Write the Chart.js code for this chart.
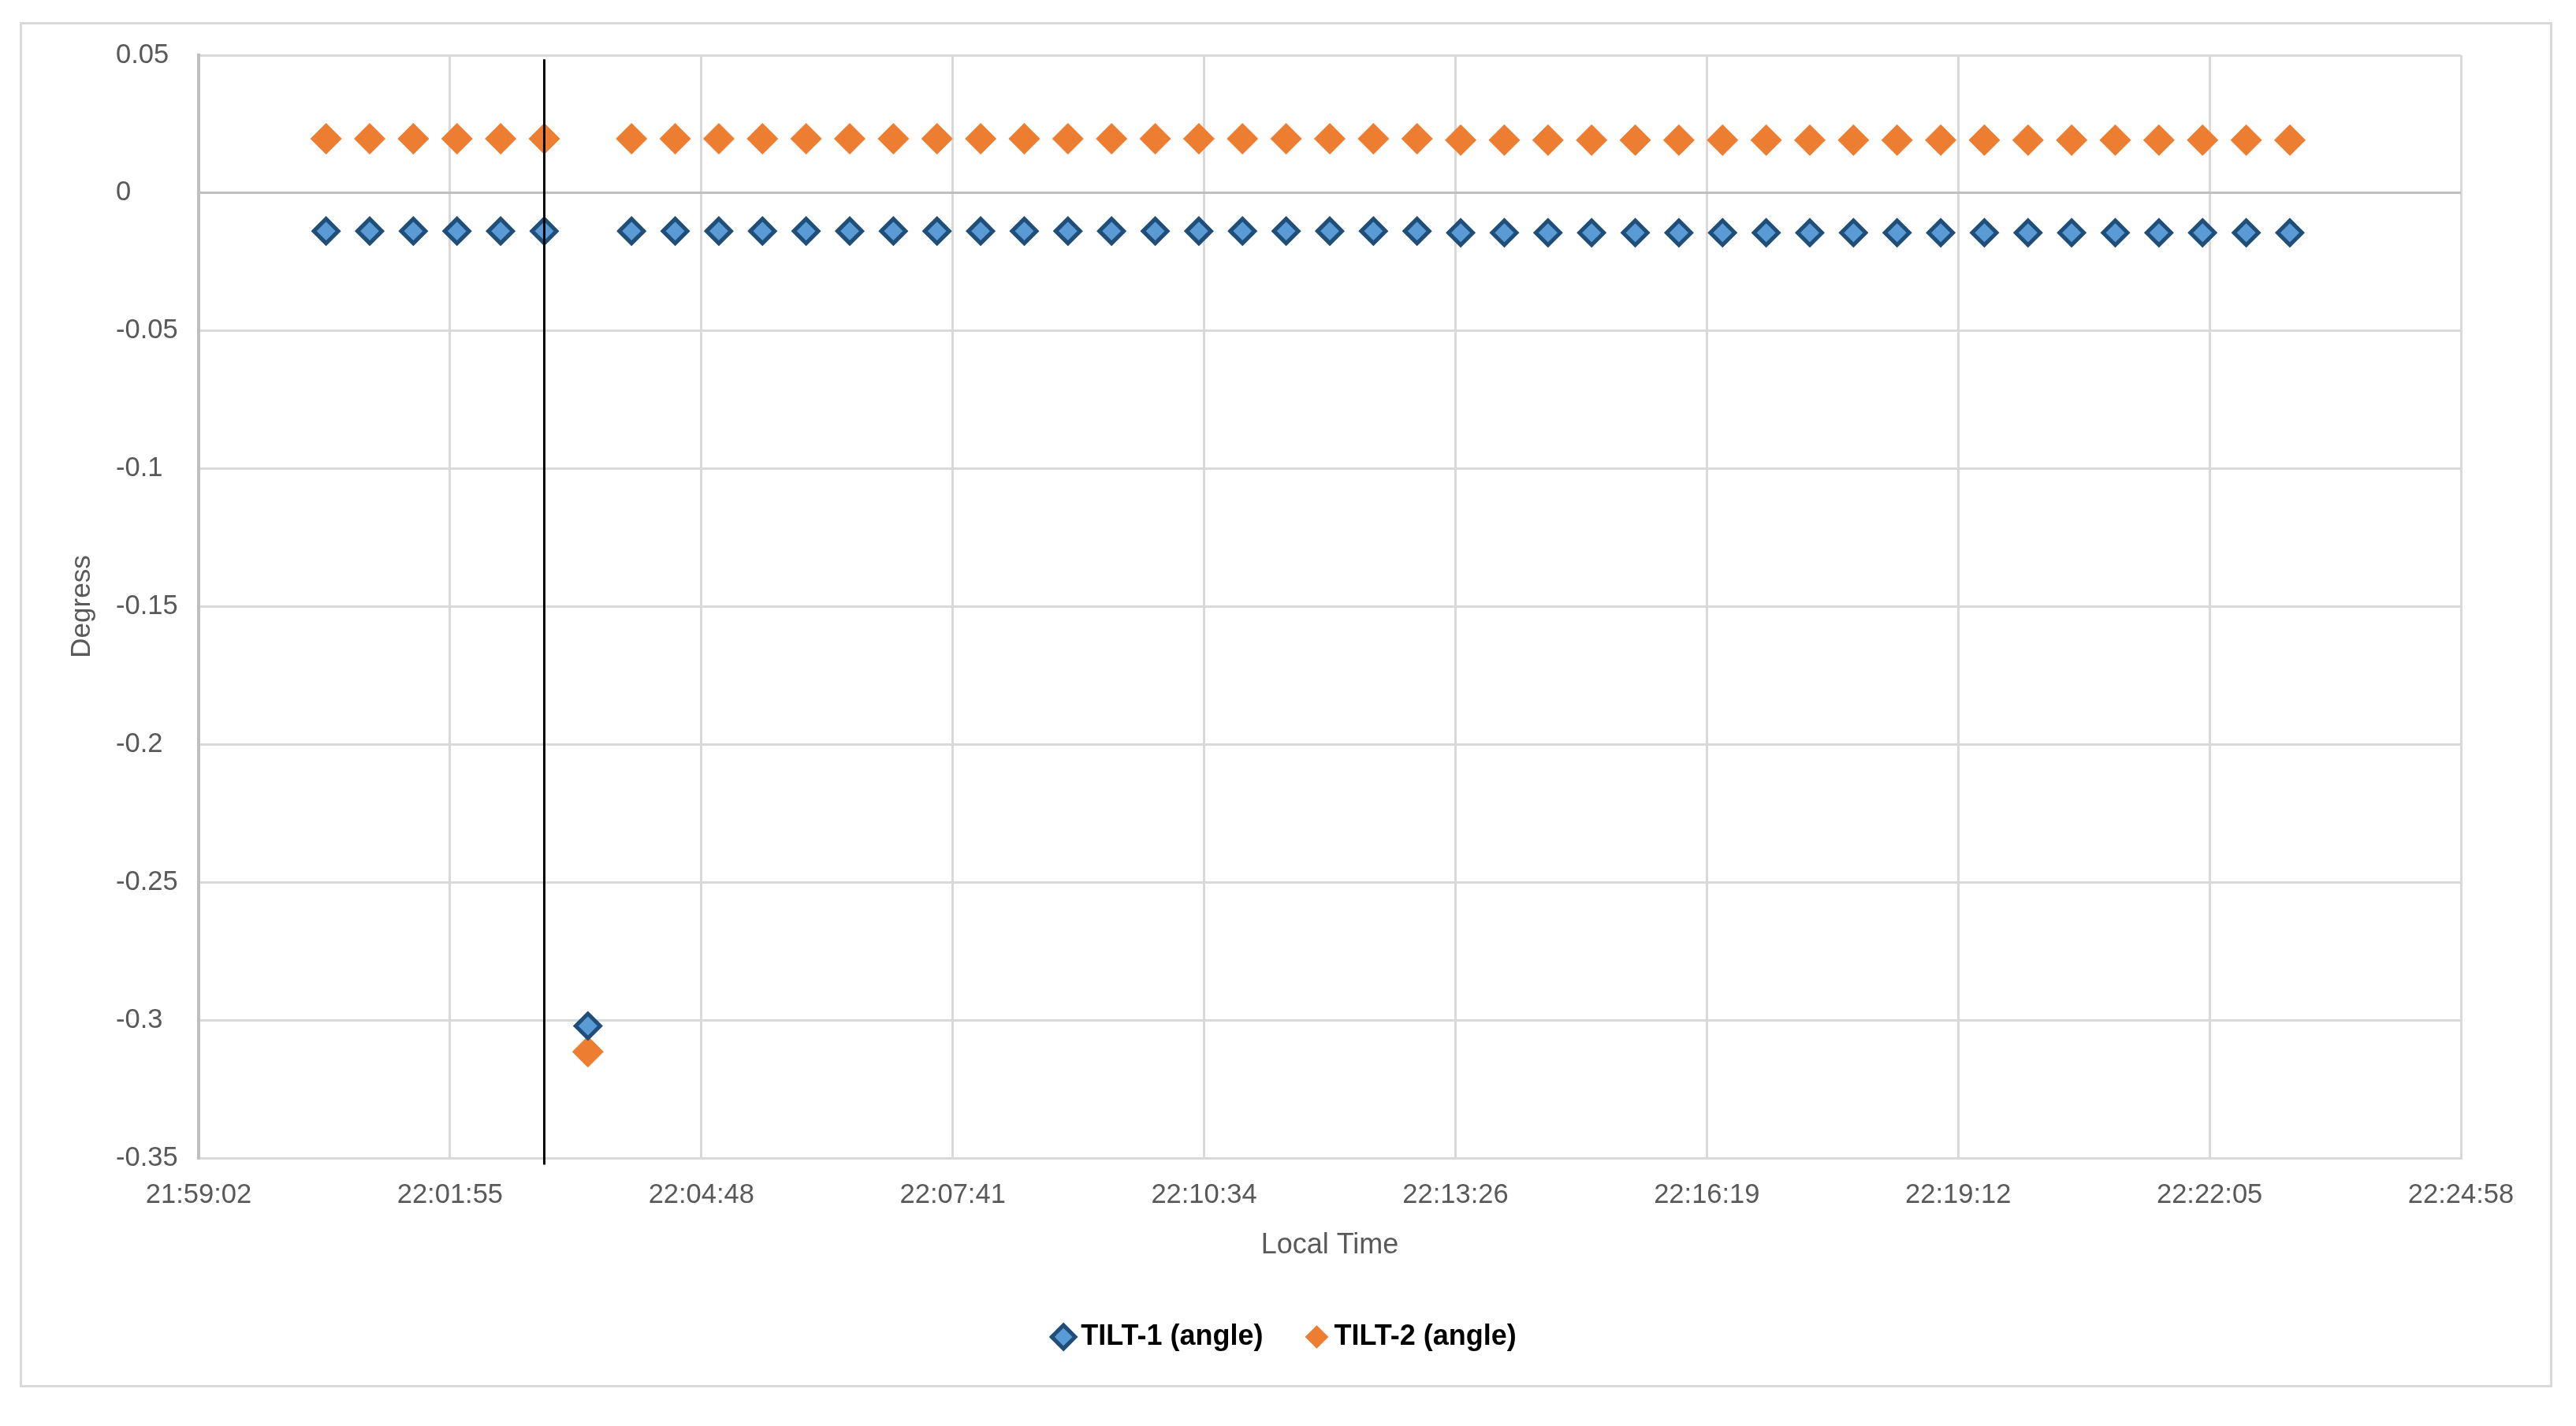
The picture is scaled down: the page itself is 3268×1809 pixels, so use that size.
<!DOCTYPE html>
<html>
<head>
<meta charset="utf-8">
<script src="https://cdn.jsdelivr.net/npm/chart.js@4.4.1/dist/chart.umd.min.js"></script>
<style>
  html, body { margin: 0; padding: 0; background: #ffffff; }
  #wrap { position: absolute; left: 0; top: 0; width: 3268px; height: 1809px; }
  canvas { display: block; }
</style>
</head>
<body>
<div id="wrap"><canvas id="c" width="3268" height="1809"></canvas></div>
<script>
// ---------------- data ----------------
const times = [
  '22:00:30','22:01:00','22:01:30','22:02:00','22:02:30','22:03:00',
  '22:03:30',
  '22:04:00','22:04:30','22:05:00','22:05:30','22:06:00','22:06:30','22:07:00','22:07:30','22:08:00','22:08:30',
  '22:09:00','22:09:30','22:10:00','22:10:30','22:11:00','22:11:30','22:12:00','22:12:30','22:13:00',
  '22:13:30','22:14:00','22:14:30','22:15:00','22:15:30','22:16:00','22:16:30','22:17:00','22:17:30','22:18:00',
  '22:18:30','22:19:00','22:19:30','22:20:00','22:20:30','22:21:00','22:21:30','22:22:00','22:22:30','22:23:00'
];
const tilt1 = [
  -0.0138,-0.0138,-0.0138,-0.0138,-0.0138,-0.0138,
  -0.3021,
  -0.0138,-0.0138,-0.0138,-0.0138,-0.0138,-0.0138,-0.0138,-0.0138,-0.0138,-0.0138,
  -0.0138,-0.0138,-0.0138,-0.0138,-0.0138,-0.0138,-0.0138,-0.0138,-0.0138,
  -0.0144,-0.0144,-0.0144,-0.0144,-0.0144,-0.0144,-0.0144,-0.0144,-0.0144,-0.0144,
  -0.0144,-0.0144,-0.0144,-0.0144,-0.0144,-0.0144,-0.0144,-0.0144,-0.0144,-0.0144
];
const tilt2 = [
  0.0197,0.0197,0.0197,0.0197,0.0197,0.0197,
  -0.3115,
  0.0197,0.0197,0.0197,0.0197,0.0197,0.0197,0.0197,0.0197,0.0197,0.0197,
  0.0197,0.0197,0.0197,0.0197,0.0197,0.0197,0.0197,0.0197,0.0197,
  0.0192,0.0192,0.0192,0.0192,0.0192,0.0192,0.0192,0.0192,0.0192,0.0192,
  0.0192,0.0192,0.0192,0.0192,0.0192,0.0192,0.0192,0.0192,0.0192,0.0192
];
const seriesNames = ['TILT-1 (angle)', 'TILT-2 (angle)'];
// x axis ticks: seconds of day (Excel major unit 0.002 day = 172.8 s)
const xTickValues = [79142.4, 79315.2, 79488.0, 79660.8, 79833.6, 80006.4, 80179.2, 80352.0, 80524.8, 80697.6];
const xTickLabels = ['21:59:02','22:01:55','22:04:48','22:07:41','22:10:34','22:13:26','22:16:19','22:19:12','22:22:05','22:24:58'];
const yTickValues = [-0.35, -0.3, -0.25, -0.2, -0.15, -0.1, -0.05, 0, 0.05];
const yTickLabels = ['-0.35','-0.3','-0.25','-0.2','-0.15','-0.1','-0.05','0','0.05'];
// vertical reference line
const markerTime = '22:03:00';
const markerYRange = [0.0485, -0.3524];

// ---------------- helpers ----------------
function toSec(t) {
  const p = t.split(':').map(Number);
  return p[0] * 3600 + p[1] * 60 + p[2];
}
const pts = vals => times.map((t, i) => ({ x: toSec(t), y: vals[i] }));
const FAM = "'Liberation Sans', Arial, sans-serif";

const frame = {
  id: 'frame',
  beforeDraw(chart) {
    const c = chart.ctx;
    c.save();
    c.fillStyle = '#ffffff';
    c.fillRect(0, 0, chart.width, chart.height);
    c.strokeStyle = '#D9D9D9';
    c.lineWidth = 3;
    c.strokeRect(26.5, 29.5, 3210, 1729);
    c.restore();
  }
};

new Chart(document.getElementById('c'), {
  type: 'scatter',
  data: {
    datasets: [
      {
        label: seriesNames[0],
        data: pts(tilt1),
        pointStyle: 'rectRot',
        pointRadius: 15.5,
        pointHoverRadius: 15.5,
        borderWidth: 5,
        backgroundColor: '#5B9BD5',
        borderColor: '#1F4E79',
        order: 0
      },
      {
        label: seriesNames[1],
        data: pts(tilt2),
        pointStyle: 'rectRot',
        pointRadius: 20,
        pointHoverRadius: 20,
        borderWidth: 0,
        backgroundColor: '#ED7D31',
        borderColor: '#ED7D31',
        order: 0
      },
      {
        label: '__marker',
        type: 'line',
        data: markerYRange.map(v => ({ x: toSec(markerTime), y: v })),
        borderColor: '#000000',
        borderWidth: 3,
        pointRadius: 0,
        showLine: true,
        clip: false,
        order: -1
      }
    ]
  },
  options: {
    responsive: false,
    devicePixelRatio: 1,
    animation: false,
    layout: { padding: { left: 147, right: 146, top: 70, bottom: 85 } },
    plugins: {
      tooltip: { enabled: false },
      legend: {
        position: 'bottom',
        labels: {
          usePointStyle: true,
          boxWidth: 8,
          boxHeight: 21,
          padding: 64,
          color: '#000000',
          font: { family: FAM, size: 36, weight: 'bold' },
          filter: item => item.text !== '__marker'
        }
      }
    },
    scales: {
      x: {
        type: 'linear',
        position: 'bottom',
        min: xTickValues[0],
        max: xTickValues[xTickValues.length - 1],
        afterBuildTicks: s => { s.ticks = xTickValues.map(v => ({ value: v })); },
        afterFit: s => { s.paddingLeft = 0; s.paddingRight = 0; s.height = 145; },
        grid: { color: '#D9D9D9', lineWidth: 3, drawTicks: false },
        border: { color: '#D9D9D9', width: 3 },
        ticks: {
          padding: 27,
          color: '#595959',
          font: { family: FAM, size: 34.5 },
          maxRotation: 0,
          autoSkip: false,
          callback: (v, i) => xTickLabels[i]
        },
        title: {
          display: true,
          text: 'Local Time',
          color: '#595959',
          font: { family: FAM, size: 36 },
          padding: { top: 0, bottom: 12 }
        }
      },
      y: {
        min: yTickValues[0],
        max: yTickValues[yTickValues.length - 1],
        afterBuildTicks: s => { s.ticks = yTickValues.map(v => ({ value: v })); },
        afterFit: s => { s.width = 105; s.paddingTop = 0; s.paddingBottom = 0; },
        grid: {
          color: c => (c.tick && c.tick.value === 0) ? '#BFBFBF' : '#D9D9D9',
          lineWidth: 3,
          drawTicks: false
        },
        border: { color: '#BFBFBF', width: 4 },
        ticks: {
          crossAlign: 'far',
          padding: 0,
          color: '#595959',
          font: { family: FAM, size: 34.5 },
          callback: (v, i) => yTickLabels[i]
        },
        title: {
          display: true,
          text: 'Degress',
          color: '#595959',
          font: { family: FAM, size: 35 },
          padding: { top: -64, bottom: 0 }
        }
      }
    }
  },
  plugins: [frame]
});
</script>
</body>
</html>
